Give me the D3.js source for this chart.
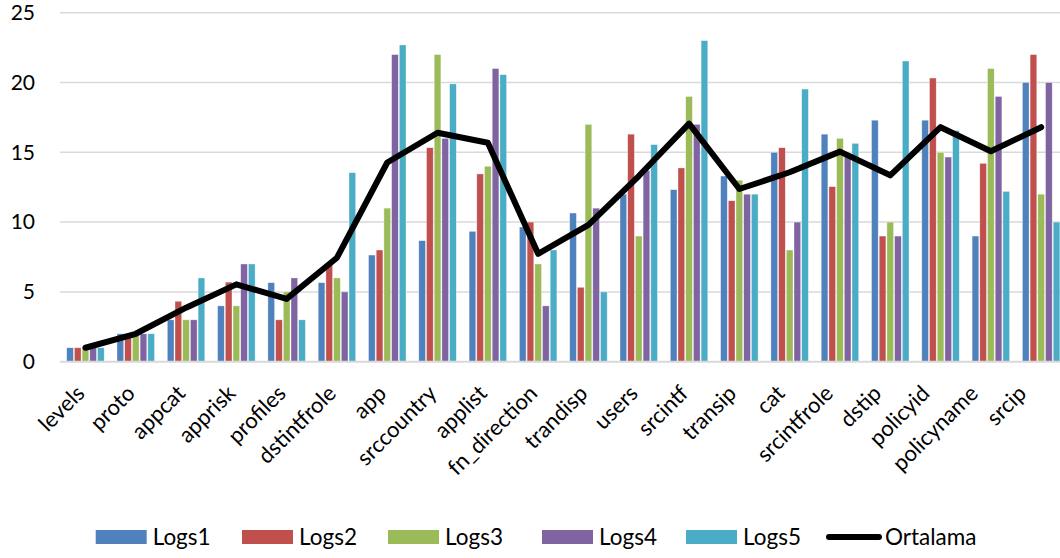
<!DOCTYPE html>
<html>
<head>
<meta charset="utf-8">
<script src="https://cdn.jsdelivr.net/npm/d3@7/dist/d3.min.js"></script>
<style>
  html, body { margin: 0; padding: 0; background: #ffffff; }
  svg { display: block; font-family: Lato, "Open Sans", sans-serif; }
</style>
</head>
<body>
<svg id="chart" width="1060" height="558"></svg>
<script>
// Categories (log fields)
const categories = ["levels", "proto", "appcat", "apprisk", "profiles", "dstintfrole", "app",
  "srccountry", "applist", "fn_direction", "trandisp", "users", "srcintf", "transip", "cat",
  "srcintfrole", "dstip", "policyid", "policyname", "srcip"];

// Bar series
const logs1 = [1, 2, 3, 4, 5.66, 5.66, 7.64, 8.67, 9.34, 9.65, 10.65, 12, 12.32, 13.3, 15, 16.3, 17.3, 17.3, 9, 20];
const logs2 = [1, 2, 4.33, 5.7, 3, 7, 8, 15.33, 13.45, 10, 5.33, 16.3, 13.88, 11.53, 15.33, 12.54, 9, 20.32, 14.21, 22];
const logs3 = [1, 2, 3, 4, 5, 6, 11, 22, 14, 7, 17, 9, 19, 13, 8, 16, 10, 15, 21, 12];
const logs4 = [1, 2, 3, 7, 6, 5, 22, 16, 21, 4, 11, 13.7, 17, 12, 10, 14.7, 9, 14.66, 19, 20];
const logs5 = [1, 2, 6, 7, 3, 13.54, 22.69, 19.9, 20.56, 8, 5, 15.55, 23, 12, 19.53, 15.64, 21.54, 16.55, 12.2, 10];

// Line series
const ortalama = [1, 2, 3.87, 5.54, 4.5, 7.45, 14.27, 16.4, 15.68, 7.73, 9.8, 13.3, 17.05, 12.37, 13.57, 15.05, 13.35, 16.8, 15.07, 16.8];

// Axis ticks
const yTicks = [0, 5, 10, 15, 20, 25];

const seriesNames = ["Logs1", "Logs2", "Logs3", "Logs4", "Logs5"];
const seriesValues = [logs1, logs2, logs3, logs4, logs5];
const seriesColors = ["#4F81BD", "#C0504D", "#9BBB59", "#8064A2", "#4BACC6"];
const lineName = "Ortalama";

const svg = d3.select("#chart");

const x = d3.scaleBand().domain(categories).range([60.3, 1066.3]).paddingInner(0).paddingOuter(0);
const groupWidth = 37.5;
const xs = d3.scaleBand().domain(seriesNames).range([0, groupWidth]).paddingInner(0.13).paddingOuter(0);
const y = d3.scaleLinear().domain([0, 25]).range([361.7, 12.7]);

// Gridlines
svg.append("g")
  .selectAll("line")
  .data(yTicks.filter(t => t > 0))
  .join("line")
  .attr("x1", 60).attr("x2", 1060)
  .attr("y1", d => y(d)).attr("y2", d => y(d))
  .attr("stroke", "#d9d9d9").attr("stroke-width", 1.5);

// Y axis labels
const yAxis = d3.axisLeft(y).tickValues(yTicks).tickSize(0).tickPadding(0).tickFormat(d3.format("d"));
const yg = svg.append("g").attr("transform", "translate(35,0)").call(yAxis);
yg.select(".domain").remove();
yg.selectAll("text").attr("font-size", 21).attr("fill", "#000").attr("font-family", "Lato, sans-serif");

// Bars
const groups = svg.append("g")
  .selectAll("g")
  .data(categories)
  .join("g")
  .attr("transform", d => `translate(${x(d) + (x.bandwidth() - groupWidth) / 2},0)`);

groups.selectAll("rect")
  .data((c, i) => seriesNames.map((s, k) => ({ s, v: seriesValues[k][i], color: seriesColors[k] })))
  .join("rect")
  .attr("x", d => xs(d.s))
  .attr("width", xs.bandwidth())
  .attr("y", d => y(d.v))
  .attr("height", d => y(0) - y(d.v))
  .attr("fill", d => d.color)
  .attr("stroke", "#ffffff").attr("stroke-opacity", 0.6).attr("stroke-width", 0.6);

// X axis baseline
svg.append("line")
  .attr("x1", 60).attr("x2", 1060)
  .attr("y1", y(0)).attr("y2", y(0))
  .attr("stroke", "#d9d9d9").attr("stroke-width", 2);

// X axis labels, slanted 45 degrees; the right-hand labels are pulled in a little
// so they stay inside the drawing area
const xAxis = d3.axisBottom(x).tickSize(0).tickPadding(0);
const xg = svg.append("g").attr("transform", `translate(0,${y(0)})`).call(xAxis);
xg.select(".domain").remove();
xg.selectAll("text")
  .attr("font-size", 22).attr("fill", "#000").attr("font-family", "Lato, sans-serif")
  .attr("text-anchor", "end")
  .attr("dy", null).attr("y", null)
  .attr("transform", (d, i) => {
    const pull = i > 12 ? (i - 12) * 2 : 0;
    return `translate(${0.5 - pull},33) rotate(-45)`;
  });

// Average line
const line = d3.line().x((d, i) => x(categories[i]) + x.bandwidth() / 2).y(d => y(d));
svg.append("path")
  .datum(ortalama)
  .attr("d", line)
  .attr("fill", "none")
  .attr("stroke", "#000").attr("stroke-width", 6)
  .attr("stroke-linejoin", "round").attr("stroke-linecap", "round");

// Legend
const legendX = [95.7, 242, 388, 542, 686];
const legend = svg.append("g").attr("font-family", "Lato, sans-serif").attr("font-size", 22.5);
seriesNames.forEach((s, k) => {
  legend.append("rect").attr("x", legendX[k]).attr("y", 530).attr("width", 51).attr("height", 14).attr("fill", seriesColors[k]);
  legend.append("text").attr("x", legendX[k] + 57).attr("y", 545).text(s);
});
legend.append("line").attr("x1", 829).attr("x2", 879).attr("y1", 537).attr("y2", 537)
  .attr("stroke", "#000").attr("stroke-width", 6).attr("stroke-linecap", "round");
legend.append("text").attr("x", 885).attr("y", 545).text(lineName);
</script>
</body>
</html>
